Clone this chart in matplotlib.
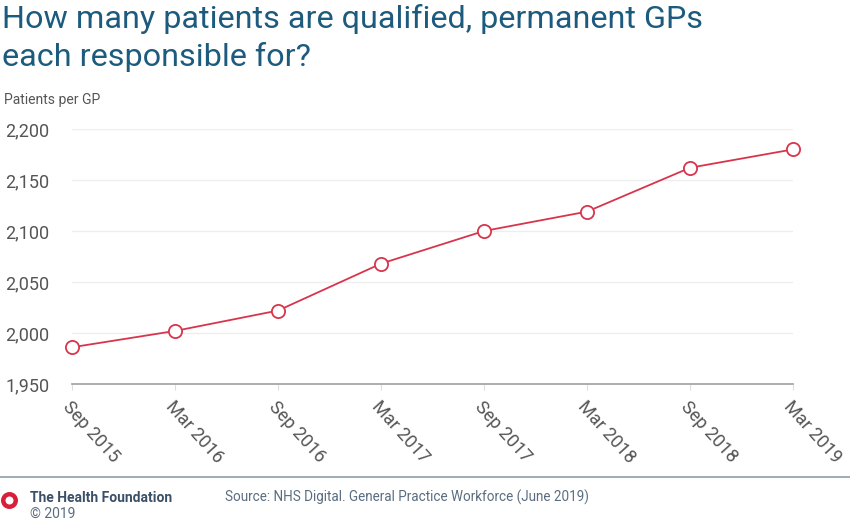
import numpy as np
import matplotlib
matplotlib.use('Agg')
import matplotlib.pyplot as plt
from matplotlib.lines import Line2D

# -------------------------------------------------------------------
# Datos
# -------------------------------------------------------------------
periods = ['Sep 2015', 'Mar 2016', 'Sep 2016', 'Mar 2017',
           'Sep 2017', 'Mar 2018', 'Sep 2018', 'Mar 2019']
patients_per_gp = [1986, 2002, 2022, 2068, 2100, 2119, 2162, 2180]
y_ticks = [1950, 2000, 2050, 2100, 2150, 2200]

title_txt = 'How many patients are qualified, permanent GPs\neach responsible for?'
source_txt = 'Source: NHS Digital. General Practice Workforce (June 2019)'

# -------------------------------------------------------------------
# Estilo
# -------------------------------------------------------------------
plt.rcParams['font.family'] = ['Roboto', 'DejaVu Sans']
red   = '#d8354c'
title_c = '#1d5b7e'
grey  = '#555555'

fig = plt.figure(figsize=(8.5, 5.27), dpi=100)
ax = fig.add_axes([72/850, 1 - 384/527, (793 - 72)/850, (384 - 129)/527])

x = np.arange(len(periods))
ax.plot(x, patients_per_gp, color=red, lw=1.3, marker='o', ms=9.5,
        mfc='white', mec=red, mew=1.3, clip_on=False, zorder=3)

ax.set_xlim(0, len(periods) - 1)
ax.set_ylim(y_ticks[0], y_ticks[-1])
ax.set_yticks(y_ticks)
ax.set_yticklabels([f'{v:,}' for v in y_ticks], ha='left')
ax.set_xticks(x)
ax.set_xticklabels(periods, rotation=-48, ha='left', va='top',
                   rotation_mode='anchor')

ax.grid(axis='y', color='#eeeeee', lw=1)
ax.set_axisbelow(True)
for s in ['top', 'right', 'left']:
    ax.spines[s].set_visible(False)
ax.spines['bottom'].set_color('#a0a0a0')
ax.spines['bottom'].set_linewidth(1.2)

# pad en puntos: 67 px -> ~48 pt
ax.tick_params(axis='y', length=0, pad=48, labelsize=13, labelcolor=grey)
ax.tick_params(axis='x', length=4, color='#dddddd', pad=6,
               labelsize=13, labelcolor=grey)

# -------------------------------------------------------------------
# Textos
# -------------------------------------------------------------------
fig.text(2/850, 1 - 4/527, title_txt, ha='left', va='top', fontsize=23.3,
         color=title_c, linespacing=1.35)
fig.text(4/850, 1 - 100/527, 'Patients per GP', ha='left', va='center',
         fontsize=10, color=grey)

# línea y pie
fig.add_artist(Line2D([0, 1], [1 - 477/527] * 2, color='#8a9fb0', lw=1.2))
fig.add_artist(Line2D([9/850], [1 - 500/527], marker='o', ms=9, mfc='none',
                      mec='#d8203a', mew=3.2))
fig.text(30/850, 1 - 498/527, 'The Health Foundation', ha='left', va='center',
         fontsize=10, fontweight='bold', color='#3b5066')
fig.text(30/850, 1 - 514/527, '© 2019', ha='left', va='center',
         fontsize=10, color='#5a6d80')
fig.text(225/850, 1 - 497/527, source_txt, ha='left', va='center',
         fontsize=9.75, color='#5a6d80')

fig.savefig('out.png', dpi=100)
